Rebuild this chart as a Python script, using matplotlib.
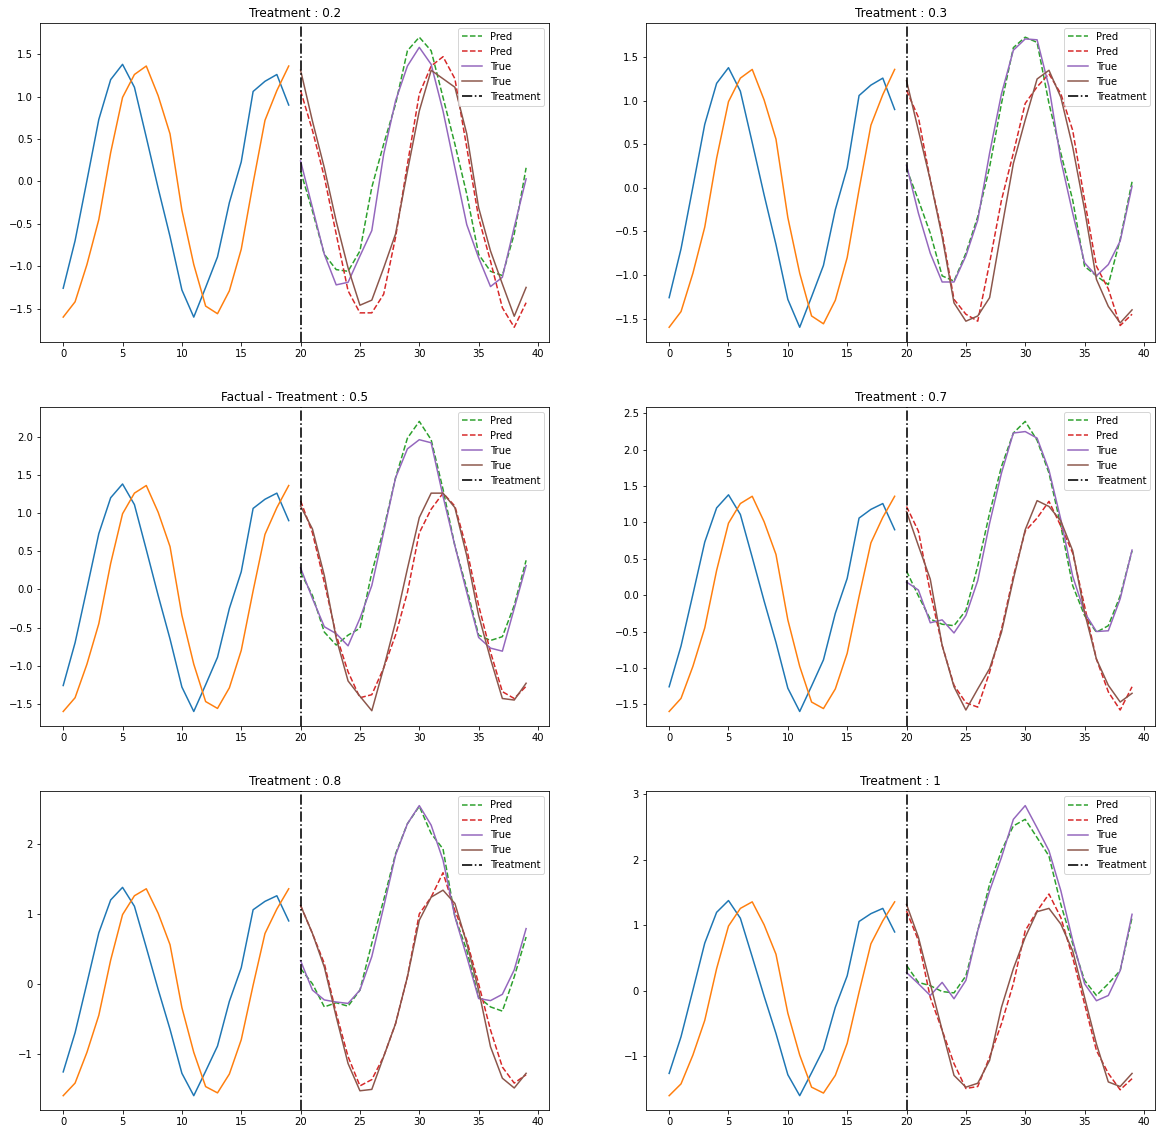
import numpy as np
import matplotlib
matplotlib.use("Agg")
import matplotlib.pyplot as plt

titles = ["Treatment : 0.2", "Treatment : 0.3", "Factual - Treatment : 0.5",
          "Treatment : 0.7", "Treatment : 0.8", "Treatment : 1"]

x_hist = list(range(0, 20))
x_fut = list(range(20, 40))

hist_blue = [-1.26, -0.70, 0.01, 0.73, 1.20, 1.38, 1.11, 0.52, -0.08, -0.65,
             -1.28, -1.60, -1.25, -0.89, -0.25, 0.23, 1.06, 1.18, 1.26, 0.90]
hist_orange = [-1.60, -1.42, -0.98, -0.45, 0.34, 0.99, 1.26, 1.36, 1.01, 0.56,
               -0.34, -0.98, -1.47, -1.56, -1.29, -0.80, -0.02, 0.72, 1.07, 1.36]

# green dashed (Pred)
pred_green = [
    [0.12, -0.35, -0.86, -1.04, -1.06, -0.82, -0.07, 0.44, 0.91, 1.54,
     1.70, 1.54, 0.99, 0.44, -0.15, -0.86, -1.06, -1.11, -0.62, 0.16],
    [0.22, -0.14, -0.52, -1.01, -1.07, -0.75, -0.33, 0.24, 0.97, 1.61,
     1.73, 1.67, 0.97, 0.40, -0.14, -0.90, -1.01, -1.11, -0.59, 0.07],
    [0.22, -0.08, -0.56, -0.73, -0.60, -0.51, 0.22, 0.79, 1.46, 1.98,
     2.20, 1.96, 1.31, 0.57, 0.01, -0.60, -0.67, -0.62, -0.21, 0.38],
    [0.33, -0.01, -0.33, -0.40, -0.42, -0.21, 0.40, 1.13, 1.77, 2.23,
     2.39, 2.13, 1.68, 0.95, 0.13, -0.28, -0.51, -0.42, -0.01, 0.61],
    [0.22, 0.00, -0.33, -0.27, -0.32, -0.09, 0.58, 1.20, 1.86, 2.29,
     2.54, 2.15, 1.93, 0.96, 0.48, -0.19, -0.33, -0.39, 0.10, 0.67],
    [0.39, 0.13, 0.08, -0.01, -0.03, 0.23, 0.92, 1.63, 2.14, 2.52,
     2.62, 2.34, 2.06, 1.32, 0.72, 0.16, -0.07, 0.11, 0.31, 1.12],
]

# red dashed (Pred)
pred_red = [
    [1.07, 0.60, 0.05, -0.62, -1.29, -1.55, -1.55, -1.33, -0.66, 0.20,
     1.03, 1.36, 1.47, 1.21, 0.40, -0.43, -0.94, -1.49, -1.72, -1.43],
    [1.12, 0.81, 0.09, -0.52, -1.28, -1.45, -1.53, -0.86, -0.14, 0.40,
     0.97, 1.16, 1.31, 1.08, 0.66, -0.14, -0.90, -1.16, -1.58, -1.45],
    [1.16, 0.74, 0.09, -0.60, -1.08, -1.42, -1.38, -1.03, -0.60, -0.04,
     0.74, 1.05, 1.26, 1.09, 0.53, -0.21, -0.82, -1.34, -1.43, -1.27],
    [1.22, 0.88, 0.04, -0.69, -1.24, -1.48, -1.54, -1.06, -0.47, 0.26,
     0.88, 1.06, 1.29, 0.95, 0.58, -0.15, -0.88, -1.33, -1.58, -1.26],
    [1.12, 0.72, 0.29, -0.42, -1.04, -1.46, -1.37, -1.04, -0.57, 0.10,
     1.00, 1.24, 1.59, 1.05, 0.62, 0.00, -0.66, -1.19, -1.42, -1.30],
    [1.22, 0.77, -0.10, -0.60, -1.11, -1.49, -1.46, -1.01, -0.50, 0.11,
     0.92, 1.22, 1.48, 1.12, 0.51, -0.20, -0.91, -1.26, -1.51, -1.34],
]

# purple solid (True)
true_purple = [
    [0.24, -0.31, -0.86, -1.22, -1.19, -0.88, -0.58, 0.32, 0.95, 1.36,
     1.58, 1.38, 0.83, 0.16, -0.51, -0.90, -1.24, -1.13, -0.54, 0.03],
    [0.26, -0.29, -0.75, -1.08, -1.08, -0.78, -0.37, 0.40, 1.08, 1.58,
     1.71, 1.70, 1.16, 0.32, -0.29, -0.86, -1.01, -0.88, -0.61, 0.02],
    [0.28, -0.12, -0.49, -0.58, -0.74, -0.38, 0.05, 0.75, 1.46, 1.84,
     1.96, 1.92, 1.22, 0.57, -0.04, -0.63, -0.77, -0.81, -0.25, 0.31],
    [0.18, 0.07, -0.38, -0.34, -0.52, -0.28, 0.20, 0.99, 1.68, 2.23,
     2.25, 2.16, 1.72, 1.04, 0.26, -0.24, -0.50, -0.49, -0.05, 0.62],
    [0.33, -0.09, -0.23, -0.26, -0.28, -0.09, 0.39, 1.10, 1.84, 2.29,
     2.55, 2.27, 1.77, 0.96, 0.39, -0.21, -0.24, -0.15, 0.20, 0.79],
    [0.28, 0.11, -0.07, 0.13, -0.12, 0.16, 0.92, 1.53, 2.04, 2.62,
     2.83, 2.49, 2.14, 1.53, 0.77, 0.11, -0.15, -0.07, 0.31, 1.17],
]

# brown solid (True)
true_brown = [
    [1.31, 0.71, 0.16, -0.47, -1.02, -1.46, -1.40, -1.02, -0.62, 0.12,
     0.83, 1.31, 1.21, 1.11, 0.56, -0.31, -0.82, -1.21, -1.59, -1.25],
    [1.23, 0.66, 0.09, -0.56, -1.32, -1.53, -1.47, -1.26, -0.48, 0.28,
     0.78, 1.25, 1.35, 1.04, 0.47, -0.25, -1.05, -1.36, -1.55, -1.40],
    [1.09, 0.79, 0.18, -0.64, -1.20, -1.40, -1.59, -1.03, -0.43, 0.27,
     0.94, 1.26, 1.26, 1.07, 0.44, -0.34, -0.91, -1.43, -1.45, -1.23],
    [1.15, 0.68, 0.22, -0.69, -1.26, -1.58, -1.29, -1.01, -0.51, 0.22,
     0.90, 1.30, 1.22, 1.02, 0.61, -0.24, -0.88, -1.24, -1.47, -1.35],
    [1.12, 0.72, 0.24, -0.47, -1.14, -1.53, -1.51, -1.04, -0.57, 0.10,
     0.91, 1.24, 1.34, 1.15, 0.58, -0.09, -0.90, -1.35, -1.49, -1.28],
    [1.32, 0.82, 0.11, -0.60, -1.29, -1.47, -1.41, -1.06, -0.25, 0.34,
     0.82, 1.21, 1.26, 1.02, 0.61, -0.10, -0.81, -1.39, -1.46, -1.26],
]

treatment_step = 20

fig, axes = plt.subplots(3, 2, figsize=(1161 / 72, 1134 / 72), dpi=72)
fig.subplots_adjust(left=0.0345, right=0.995, bottom=0.021, top=0.980,
                    wspace=0.19, hspace=0.204)

for i, ax in enumerate(axes.flat):
    ax.plot(x_hist, hist_blue, color="C0")
    ax.plot(x_hist, hist_orange, color="C1")
    ax.plot(x_fut, pred_green[i], "--", color="C2", label="Pred")
    ax.plot(x_fut, pred_red[i], "--", color="C3", label="Pred")
    ax.plot(x_fut, true_purple[i], color="C4", label="True")
    ax.plot(x_fut, true_brown[i], color="C5", label="True")
    ax.axvline(treatment_step, color="k", linestyle="-.", linewidth=1.6,
               label="Treatment")
    ax.set_title(titles[i])
    ax.legend(loc="upper right")

fig.savefig("out.png", dpi=72)
